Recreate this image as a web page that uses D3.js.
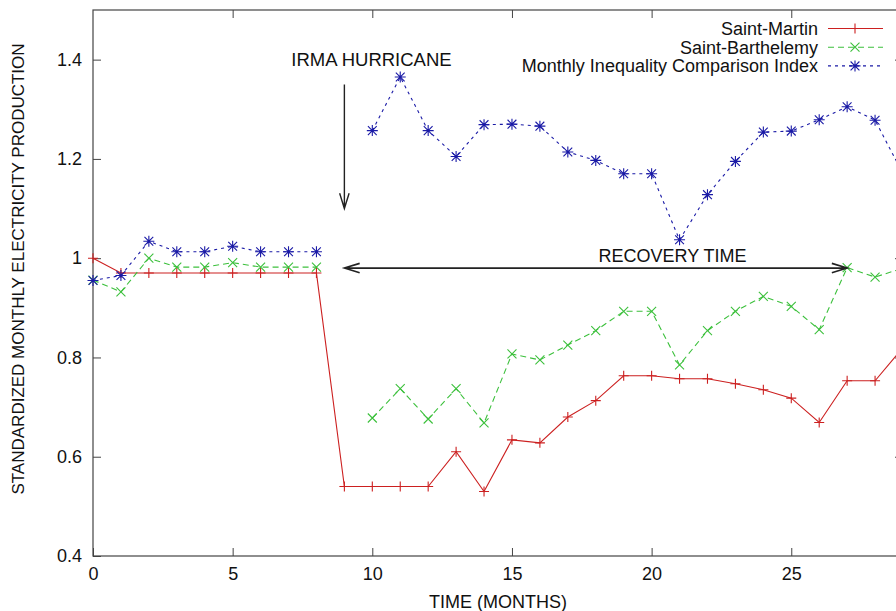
<!DOCTYPE html>
<html>
<head>
<meta charset="utf-8">
<script src="https://cdn.jsdelivr.net/npm/d3@7"></script>
<style>
    body { margin: 0; background: #fff; }
    svg text { font-family: "Liberation Sans", Arial, sans-serif; fill: #111; }
</style>
</head>
<body>
<div id="chart"></div>
<script>
// Months after the start of the series
const months = d3.range(0, 30);

// Standardized monthly production (null = no data)
const saintMartin = [1.0, 0.97, 0.97, 0.97, 0.97, 0.97, 0.97, 0.97, 0.97, 0.54,
    0.54, 0.54, 0.54, 0.61, 0.53, 0.634, 0.628, 0.68, 0.713, 0.763,
    0.763, 0.757, 0.757, 0.747, 0.735, 0.718, 0.669, 0.753, 0.753, 0.82];

const saintBarth = [0.956, 0.932, 1.0, 0.982, 0.982, 0.991, 0.982, 0.982, 0.982, null,
    0.678, 0.737, 0.676, 0.737, 0.668, 0.807, 0.795, 0.825, 0.854, 0.893,
    0.893, 0.785, 0.854, 0.893, 0.923, 0.903, 0.856, 0.981, 0.962, 0.98];

const mici = [0.955, 0.965, 1.034, 1.013, 1.013, 1.024, 1.013, 1.013, 1.013, null,
    1.257, 1.365, 1.257, 1.205, 1.269, 1.27, 1.266, 1.214, 1.197, 1.17,
    1.17, 1.037, 1.128, 1.195, 1.254, 1.256, 1.279, 1.305, 1.278, 1.17];

const seriesNames = ['Saint-Martin', 'Saint-Barthelemy', 'Monthly Inequality Comparison Index'];

const xTicks = [0, 5, 10, 15, 20, 25];
const yTicks = [0.4, 0.6, 0.8, 1.0, 1.2, 1.4];
const yTickLabels = ['0.4', '0.6', '0.8', '1', '1.2', '1.4'];

// Annotations in data units
const irmaArrow = { x: 9, y1: 1.35, y2: 1.1 };
const recoveryArrow = { x1: 9, x2: 27, y: 0.98 };

let width = 896,
    height = 611,
    margin = { top: 10, left: 93, right: -7, bottom: 55 },
    fontSize = 18;

let svg = d3.select('#chart')
    .append('svg')
    .attr('width', width)
    .attr('height', height);

let xScale = d3.scaleLinear()
    .domain([0, 29])
    .range([margin.left, width - margin.right]);

let yScale = d3.scaleLinear()
    .domain([0.4, 1.5])
    .range([height - margin.bottom, margin.top]);

const frameColor = '#444';

// Bottom axis, ticks pointing in
let xAxis = svg.append('g')
    .attr('transform', 'translate(0,' + yScale(0.4) + ')')
    .call(d3.axisBottom(xScale).tickValues(xTicks).tickSizeInner(-8).tickSizeOuter(0).tickPadding(11));

// Mirror ticks on the top
let xTop = svg.append('g')
    .attr('transform', 'translate(0,' + yScale(1.5) + ')')
    .call(d3.axisTop(xScale).tickValues(xTicks.slice(1)).tickSizeInner(-8).tickSizeOuter(0).tickFormat(''));

// Left axis
let yAxis = svg.append('g')
    .attr('transform', 'translate(' + xScale(0) + ',0)')
    .call(d3.axisLeft(yScale).tickValues(yTicks).tickSizeInner(-8).tickSizeOuter(0).tickPadding(11)
        .tickFormat((d, i) => yTickLabels[i]));

// Right axis mirror ticks
let yRight = svg.append('g')
    .attr('transform', 'translate(' + xScale(29) + ',0)')
    .call(d3.axisRight(yScale).tickValues(yTicks.slice(1)).tickSizeInner(-8).tickSizeOuter(0).tickFormat(''));

svg.selectAll('.domain').remove();
svg.selectAll('.tick line').attr('stroke', frameColor);
svg.selectAll('.tick text')
    .style('font-size', fontSize + 'px')
    .attr('fill', '#111');

// Plot frame
svg.append('rect')
    .attr('x', xScale(0))
    .attr('y', yScale(1.5))
    .attr('width', xScale(29) - xScale(0))
    .attr('height', yScale(0.4) - yScale(1.5))
    .attr('fill', 'none')
    .attr('stroke', frameColor)
    .attr('stroke-width', 1.2);

// Axis labels
svg.append('text')
    .attr('x', (xScale(0) + xScale(29)) / 2)
    .attr('y', 602)
    .attr('dy', '0.35em')
    .attr('text-anchor', 'middle')
    .style('font-size', fontSize + 'px')
    .text('TIME (MONTHS)');

svg.append('text')
    .attr('transform', 'translate(18,269) rotate(-90)')
    .attr('dy', '0.35em')
    .attr('text-anchor', 'middle')
    .style('font-size', '17px')
    .text('STANDARDIZED MONTHLY ELECTRICITY PRODUCTION');

// Marker shapes
function plusPath(s) {
    return `M${-s},0H${s}M0,${-s}V${s}`;
}

function crossPath(s) {
    return `M${-s},${-s}L${s},${s}M${-s},${s}L${s},${-s}`;
}

function starPath(s) {
    return plusPath(s) + crossPath(s * 0.8);
}

let series = [
    { name: seriesNames[0], values: saintMartin, color: '#cc2020', dash: null, marker: plusPath(5) },
    { name: seriesNames[1], values: saintBarth, color: '#3cc03c', dash: '6,4', marker: crossPath(4.5) },
    { name: seriesNames[2], values: mici, color: '#1a1aa6', dash: '3,4', marker: starPath(5.5) }
];

let line = d3.line()
    .defined(d => d[1] != null)
    .x(d => xScale(d[0]))
    .y(d => yScale(d[1]));

series.forEach(s => {
    let pts = months.map((m, i) => [m, s.values[i]]);

    svg.append('path')
        .datum(pts)
        .attr('fill', 'none')
        .attr('stroke', s.color)
        .attr('stroke-width', 1.1)
        .attr('stroke-dasharray', s.dash)
        .attr('d', line);

    svg.append('g')
        .selectAll('path')
        .data(pts.filter(d => d[1] != null))
        .enter()
        .append('path')
        .attr('transform', d => 'translate(' + xScale(d[0]) + ',' + yScale(d[1]) + ')')
        .attr('d', s.marker)
        .attr('fill', 'none')
        .attr('stroke', s.color)
        .attr('stroke-width', 1.1);
});

// Open gnuplot-style arrow head at (x, y) pointing along angle
function arrowHead(x, y, angle) {
    let len = 16,
        spread = 0.3;
    let a1 = angle + Math.PI - spread,
        a2 = angle + Math.PI + spread;
    return `M${x + len * Math.cos(a1)},${y + len * Math.sin(a1)}L${x},${y}L${x + len * Math.cos(a2)},${y + len * Math.sin(a2)}`;
}

const arrowColor = '#222';

// Hurricane arrow
let ax = xScale(irmaArrow.x);
svg.append('path')
    .attr('d', `M${ax},${yScale(irmaArrow.y1)}V${yScale(irmaArrow.y2)}` + arrowHead(ax, yScale(irmaArrow.y2), Math.PI / 2))
    .attr('fill', 'none')
    .attr('stroke', arrowColor)
    .attr('stroke-width', 1.4);

// Recovery time double arrow
let ry = yScale(recoveryArrow.y),
    rx1 = xScale(recoveryArrow.x1),
    rx2 = xScale(recoveryArrow.x2);
svg.append('path')
    .attr('d', `M${rx1},${ry}H${rx2}` + arrowHead(rx2, ry, 0) + arrowHead(rx1, ry, Math.PI))
    .attr('fill', 'none')
    .attr('stroke', arrowColor)
    .attr('stroke-width', 1.6);

svg.append('text')
    .attr('x', xScale(7.1))
    .attr('y', yScale(1.4))
    .attr('dy', '0.35em')
    .style('font-size', '18.5px')
    .text('IRMA HURRICANE');

svg.append('text')
    .attr('x', xScale(18.1))
    .attr('y', yScale(1.005))
    .attr('dy', '0.35em')
    .style('font-size', fontSize + 'px')
    .text('RECOVERY TIME');

// Legend, top right
let legend = svg.append('g')
    .selectAll('g')
    .data(series)
    .enter()
    .append('g')
    .attr('transform', (d, i) => 'translate(0,' + (28.5 + i * 18.7) + ')');

legend.append('text')
    .attr('x', 818)
    .attr('dy', '0.35em')
    .attr('text-anchor', 'end')
    .style('font-size', fontSize + 'px')
    .text(d => d.name);

legend.append('line')
    .attr('x1', 828)
    .attr('x2', 883)
    .attr('stroke', d => d.color)
    .attr('stroke-width', 1.1)
    .attr('stroke-dasharray', d => d.dash);

legend.append('path')
    .attr('transform', 'translate(855,0)')
    .attr('d', d => d.marker)
    .attr('fill', 'none')
    .attr('stroke', d => d.color)
    .attr('stroke-width', 1.1);
</script>
</body>
</html>
